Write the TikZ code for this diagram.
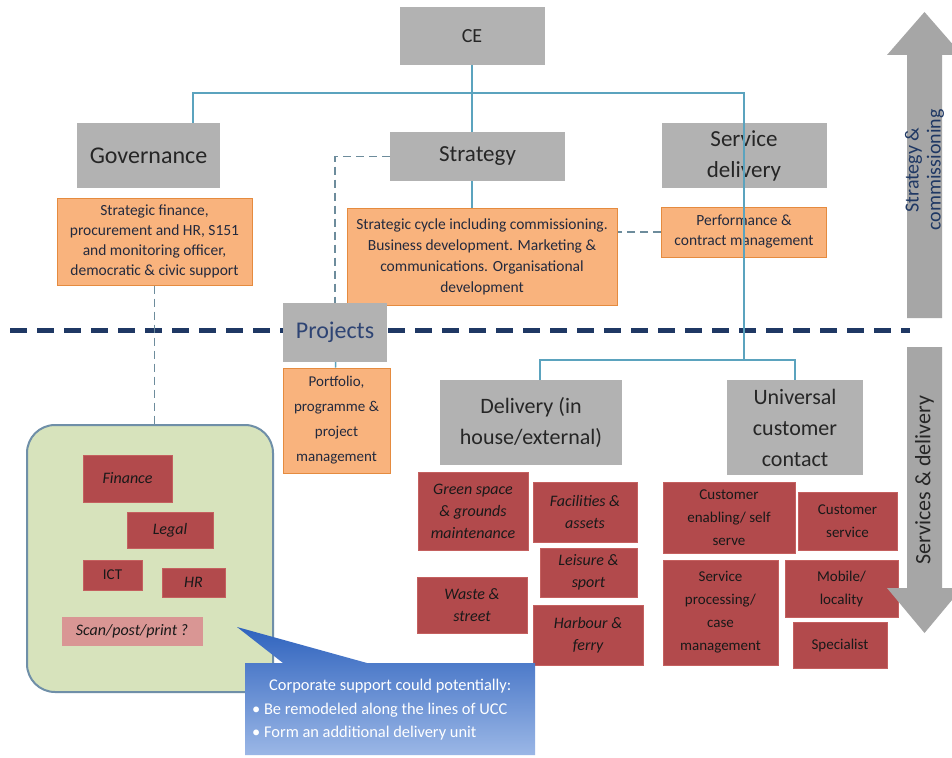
\documentclass[tikz,border=0pt]{standalone}
\usepackage{fontspec}
\setmainfont{Carlito}
\usetikzlibrary{calc, positioning}

\definecolor{boxgrey}{HTML}{B2B2B2}
\definecolor{inkgrey}{HTML}{262626}
\definecolor{notefill}{HTML}{F9B37D}
\definecolor{noteedge}{HTML}{E58B3F}
\definecolor{noteink}{HTML}{232A3E}
\definecolor{unitred}{HTML}{B24A4C}
\definecolor{unitedge}{HTML}{C4605F}
\definecolor{scanpink}{HTML}{D99694}
\definecolor{corpgreen}{HTML}{D7E3BC}
\definecolor{corpedge}{HTML}{6F8FA8}
\definecolor{linkblue}{HTML}{5BA3BE}
\definecolor{dashgrey}{HTML}{6D8C9C}
\definecolor{navy}{HTML}{1F3864}
\definecolor{projink}{HTML}{2E4474}
\definecolor{arrowgrey}{HTML}{A6A6A6}
\definecolor{calltop}{HTML}{2F63BE}
\definecolor{callbottom}{HTML}{9BB7E6}

\begin{document}
\begin{tikzpicture}[x=1pt, y=-1pt,
    greybox/.style={fill=boxgrey, text=inkgrey, align=center, inner sep=0pt,
        font=\fontsize{23}{31}\selectfont},
    notebox/.style={fill=notefill, draw=noteedge, line width=1pt, text=noteink,
        align=center, inner sep=0pt, font=\fontsize{15.5}{20}\selectfont},
    unitbox/.style={fill=unitred, draw=unitedge, line width=0.8pt, text=black!90,
        align=center, inner sep=0pt, font=\fontsize{15}{23}\selectfont},
    unitboxit/.style={unitbox, font=\fontsize{16}{22}\selectfont\itshape},
    solidlink/.style={draw=linkblue, line width=1.5pt},
    dashlink/.style={draw=dashgrey, line width=1.5pt, dash pattern=on 8pt off 5pt},
]
\clip (0,0) rectangle (952,757);
\fill[white] (0,0) rectangle (952,757);

% Divider: strategy above, delivery below
\draw[navy, line width=5pt, dash pattern=on 17pt off 10pt] (10,330) -- (910,330);

% Top level
\node[greybox, font=\fontsize{20}{24}\selectfont, minimum width=145, minimum height=58] (ce) at (472,36) {CE};
\node[greybox, font=\fontsize{24}{31}\selectfont, minimum width=143, minimum height=65] (gov) at (148.5,155.5) {Governance};
\node[greybox, minimum width=175, minimum height=49] (strat) at (477.5,156.5) {Strategy};
\node[greybox, minimum width=165, minimum height=65] (sd) at (744,155.5) {Service\\delivery};

% Notes under each head
\node[notebox, minimum width=195, minimum height=87] (govnote) at (154.5,241.5)
    {Strategic finance,\\procurement and HR, S151\\and monitoring officer,\\democratic \& civic support};
\node[notebox, minimum width=270, minimum height=97, font=\fontsize{15.5}{21}\selectfont] (stratnote) at (482,256.5)
    {Strategic cycle including commissioning.\\Business development. Marketing \&\\communications. Organisational\\development};
\node[notebox, minimum width=165, minimum height=50] (perf) at (744,232) {Performance \&\\contract management};

% Projects
\node[greybox, text=projink, font=\fontsize{24}{28}\selectfont, minimum width=104, minimum height=59] (proj) at (335,332.5) {Projects};
\node[notebox, font=\fontsize{15}{25}\selectfont, minimum width=107, minimum height=105] (portf) at (336.5,420.5)
    {Portfolio,\\programme \&\\project\\management};

% Delivery layer
\node[greybox, font=\fontsize{22}{31}\selectfont, minimum width=182, minimum height=85] (dlv) at (531,422.5) {Delivery (in\\house/external)};
\node[greybox, font=\fontsize{22}{31}\selectfont, minimum width=136, minimum height=95] (ucc) at (795,427.5) {Universal\\customer\\contact};

% Connectors
\coordinate (bar) at (472,93);
\coordinate (dbar) at (744,360);
\draw[solidlink] (ce) -- (bar);
\draw[solidlink] ([xshift=44.5]gov.north) |- (bar) -| (sd.north);
\draw[solidlink] (bar) -- (bar |- strat.north);
\draw[solidlink] (bar |- strat.south) -- (bar |- stratnote.north);
\draw[solidlink] (sd.north) -- (dbar);
\draw[solidlink] (dbar) -| ([xshift=9]dlv.north);
\draw[solidlink] (dbar) -| (ucc.north);
\draw[solidlink] (proj) -- (portf);
\draw[dashlink] (strat.west) -| (proj.north);
\draw[dashlink] (perf.west) -- (perf.west -| stratnote.east);

% Delivery units (in house/external)
\foreach \n/\cx/\cy/\w/\h/\t in {
    green/473/511/110/78/{Green space\\\& grounds\\maintenance},
    fac/585/512/104/60/{Facilities \&\\assets},
    leis/588.5/572.5/97/49/{Leisure \&\\sport},
    waste/472/605/110/56/{Waste \&\\street},
    harb/588/635/110/60/{Harbour \&\\ferry}}
    \node[unitboxit, minimum width=\w, minimum height=\h] (\n) at (\cx,\cy) {\t};

% Universal customer contact units
\foreach \n/\cx/\cy/\w/\h/\t in {
    enab/729/517.5/132/71/{Customer\\enabling/ self\\serve},
    cserv/847.5/521/99/58/{Customer\\service},
    sproc/720.5/612.5/115/105/{Service\\processing/\\case\\management},
    mob/841.5/588.5/113/57/{Mobile/\\locality},
    spec/840/645/94/46/{Specialist}}
    \node[unitbox, minimum width=\w, minimum height=\h] (\n) at (\cx,\cy) {\t};

% Corporate support
\node[draw=corpedge, line width=2pt, fill=corpgreen, rounded corners=28pt,
    minimum width=246, minimum height=267] (corp) at (150,558.5) {};
\draw[dashlink] (govnote.south) -- (govnote.south |- corp.north);
\foreach \n/\cx/\cy/\w/\h/\t in {
    fin/127.5/478.5/89/47/Finance,
    legal/170/530/86/36/Legal,
    hr/193.5/582.5/63/29/HR}
    \node[unitboxit, minimum width=\w, minimum height=\h] (\n) at (\cx,\cy) {\t};
\node[unitbox, minimum width=59, minimum height=30] (ict) at (112.5,575) {ICT};
\node[unitboxit, fill=scanpink, draw=scanpink, minimum width=140, minimum height=28] (scan) at (132,631) {Scan/post/print ?};

% Callout
\shade[top color=calltop, bottom color=callbottom]
    (245,663) -- (283,663) -- (237,627) -- (367,663) -- (535,663) -- (535,755) -- (245,755) -- cycle;
\node[align=left, text=white, font=\fontsize{16.4}{23.5}\selectfont, inner sep=0pt, anchor=west] (note) at (252,710)
    {\hspace*{17pt}Corporate support could potentially:\\\textbullet{} Be remodeled along the lines of UCC\\\textbullet{} Form an additional delivery unit};

% Side arrows
\fill[arrowgrey] (907,318) -- (907,55) -- (887,55) -- (924.5,12) -- (962,55) -- (942,55) -- (942,318) -- cycle;
\node[rotate=90, text=navy, align=center, font=\fontsize{20}{22}\selectfont] (upl) at (924.5,170) {Strategy \&\\commissioning};
\fill[arrowgrey] (907,347) -- (907,588) -- (887,588) -- (924.5,633) -- (962,588) -- (942,588) -- (942,347) -- cycle;
\node[rotate=90, text=inkgrey, font=\fontsize{22}{24}\selectfont] (downl) at (924.5,480) {Services \& delivery};
\end{tikzpicture}
\end{document}
